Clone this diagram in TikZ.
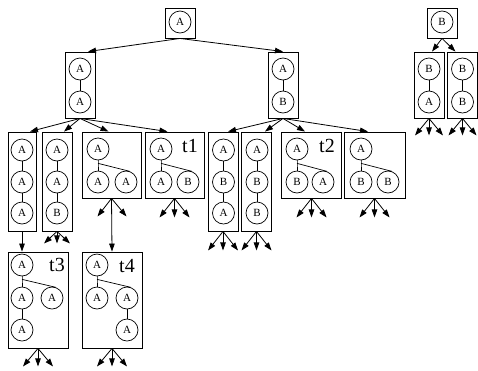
\documentclass[tikz,border=0pt]{standalone}
\usepackage{fontspec}
\setmainfont{Liberation Serif}
\usetikzlibrary{arrows.meta,calc}

\tikzset{
  frame/.style={draw, rectangle, line width=0.9pt, inner sep=0pt},
  st/.style={draw, circle, line width=0.7pt, minimum size=22pt, inner sep=0pt,
             font=\fontsize{11}{11}\selectfont},
  link/.style={line width=0.7pt},
  arr/.style={line width=0.8pt, -{Triangle[length=8pt,width=5.5pt]}},
  tag/.style={font=\fontsize{20}{20}\selectfont, inner sep=0pt}
}

% three outgoing arrows below a frame
\newcommand{\fanout}[4]{% node, dx, dy, prefix
  \coordinate (#4l) at ($(#1.south)+(-#2,#3)$);
  \coordinate (#4m) at ($(#1.south)+(0,#3)$);
  \coordinate (#4r) at ($(#1.south)+(#2,#3)$);
  \draw[arr] (#1.south) -- (#4l);
  \draw[arr] (#1.south) -- (#4m);
  \draw[arr] (#1.south) -- (#4r);
}

\begin{document}
\begin{tikzpicture}[x=1pt,y=-1pt]
\useasboundingbox (0,0) rectangle (478,370);

% ---- frames ----
\node[frame, minimum width=30pt, minimum height=30pt] (root) at (180,23) {};
\node[frame, minimum width=30pt, minimum height=30pt] (broot) at (442,23) {};

\node[frame, minimum width=30pt, minimum height=66pt] (L) at (80,85) {};
\node[frame, minimum width=30pt, minimum height=66pt] (R) at (283,85) {};
\node[frame, minimum width=30pt, minimum height=66pt] (BL) at (429,85) {};
\node[frame, minimum width=30pt, minimum height=66pt] (BR) at (462.5,85) {};

\node[frame, minimum width=28pt, minimum height=99pt] (b1) at (22,181.5) {};
\node[frame, minimum width=30pt, minimum height=99pt] (b2) at (57,181.5) {};
\node[frame, minimum width=59pt, minimum height=66pt] (b3) at (111.5,165) {};
\node[frame, minimum width=59pt, minimum height=66pt] (t1) at (174.5,165) {};
\node[frame, minimum width=30pt, minimum height=99pt] (b5) at (223,181.5) {};
\node[frame, minimum width=30pt, minimum height=99pt] (b6) at (256.5,181.5) {};
\node[frame, minimum width=60pt, minimum height=66pt] (t2) at (311.5,165) {};
\node[frame, minimum width=61pt, minimum height=66pt] (b8) at (374.5,165) {};

\node[frame, minimum width=60pt, minimum height=96pt] (t3) at (38,300) {};
\node[frame, minimum width=60pt, minimum height=96pt] (t4) at (112,300) {};

% ---- states inside the frames ----
\node[st] (r1) at (180,22) {A};
\node[st] (s1) at (442,22) {B};

\node[st] (l1) at (80,69) {A};
\node[st] (l2) at (80,102) {A};
\draw[link] (l1) -- (l2);

\node[st] (q1) at (283,69) {A};
\node[st] (q2) at (283,102) {B};
\draw[link] (q1) -- (q2);

\node[st] (bl1) at (429,69) {B};
\node[st] (bl2) at (429,102) {A};
\draw[link] (bl1) -- (bl2);

\node[st] (br1) at (462.5,69) {B};
\node[st] (br2) at (462.5,102) {B};
\draw[link] (br1) -- (br2);

% chains
\node[st] (c11) at (22,150) {A};
\node[st] (c12) at (22,182) {A};
\node[st] (c13) at (22,213) {A};
\draw[link] (c11) -- (c12) -- (c13);

\node[st] (c21) at (57,150) {A};
\node[st] (c22) at (57,182) {A};
\node[st] (c23) at (57,213) {B};
\draw[link] (c21) -- (c22) -- (c23);

\node[st] (c51) at (223.5,150) {A};
\node[st] (c52) at (223.5,182) {B};
\node[st] (c53) at (223.5,213) {A};
\draw[link] (c51) -- (c52) -- (c53);

\node[st] (c61) at (257,150) {A};
\node[st] (c62) at (257,182) {B};
\node[st] (c63) at (257,213) {B};
\draw[link] (c61) -- (c62) -- (c63);

% branching trees
\node[st] (d1) at (98,149) {A};
\node[st] (d2) at (98,182) {A};
\node[st] (d3) at (126,182) {A};
\draw[link] (d1.south) -- ++(0,3) coordinate (df) -- (d2.north);
\draw[link] (df) -- (d3.70);

\node[st] (e1) at (161,149) {A};
\node[st] (e2) at (161,182) {A};
\node[st] (e3) at (188,182) {B};
\draw[link] (e1.south) -- ++(0,3) coordinate (ef) -- (e2.north);
\draw[link] (ef) -- (e3.70);
\node[tag] (lt1) at (190,146) {t1};

\node[st] (f1) at (297,149) {A};
\node[st] (f2) at (297,182) {B};
\node[st] (f3) at (323,182) {A};
\draw[link] (f1.south) -- ++(0,3) coordinate (ff) -- (f2.north);
\draw[link] (ff) -- (f3.70);
\node[tag] (lt2) at (327,146) {t2};

\node[st] (g1) at (361,149) {A};
\node[st] (g2) at (361,182) {B};
\node[st] (g3) at (388,182) {B};
\draw[link] (g1.south) -- ++(0,3) coordinate (gf) -- (g2.north);
\draw[link] (gf) -- (g3.70);

\node[st] (h1) at (22,265) {A};
\node[st] (h2) at (22,298) {A};
\node[st] (h3) at (52,298) {A};
\node[st] (h4) at (22,330) {A};
\draw[link] (h1.south) -- ++(0,3) coordinate (hf) -- (h2.north);
\draw[link] (hf) -- (h3.70);
\draw[link] (h2) -- (h4);
\node[tag] (lt3) at (57,265) {t3};

\node[st] (k1) at (97,265) {A};
\node[st] (k2) at (97,298) {A};
\node[st] (k3) at (127,298) {A};
\node[st] (k4) at (127,330) {A};
\draw[link] (k1.south) -- ++(0,3) coordinate (kf) -- (k2.north);
\draw[link] (kf) -- (k3.70);
\draw[link] (k3) -- (k4);
\node[tag] (lt4) at (127,266) {t4};

% ---- transitions between frames ----
\draw[arr] (root.south) -- ([xshift=8pt]L.north);
\draw[arr] (root.south) -- (R.north);
\draw[arr] (broot.south) -- ([xshift=3pt]BL.north);
\draw[arr] (broot.south) -- ([xshift=-7pt]BR.north);

\draw[arr] (L.south) -- ([xshift=8pt]b1.north);
\draw[arr] (L.south) -- ([xshift=7pt]b2.north);
\draw[arr] (L.south) -- ([xshift=-3pt]b3.north);
\draw[arr] (L.south) -- ([xshift=-7pt]t1.north);

\draw[arr] (R.south) -- ([xshift=5pt]b5.north);
\draw[arr] (R.south) -- ([xshift=8.5pt]b6.north);
\draw[arr] (R.south) -- ([xshift=-6.5pt]t2.north);
\draw[arr] (R.south) -- ([xshift=-6.5pt]b8.north);

\draw[arr] (b1.south) -- (b1.south |- t3.north);
\draw[arr] (b3.south) -- (t4.north);

% ---- unexpanded successors ----
\fanout{BL}{14}{17}{bl-}
\fanout{BR}{14}{17}{br-}
\fanout{b2}{13}{12}{b2-}
\coordinate (b3-l) at ($(b3.south)+(-14,18)$);
\coordinate (b3-r) at ($(b3.south)+(15,18)$);
\draw[arr] (b3.south) -- (b3-l);
\draw[arr] (b3.south) -- (b3-r);
\fanout{t1}{15}{19}{t1-}
\fanout{b5}{15}{19}{b5-}
\fanout{b6}{15}{19}{b6-}
\fanout{t2}{15}{19}{t2-}
\fanout{b8}{15}{19}{b8-}
\fanout{t3}{15}{18}{t3-}
\fanout{t4}{15}{18}{t4-}
\end{tikzpicture}
\end{document}
